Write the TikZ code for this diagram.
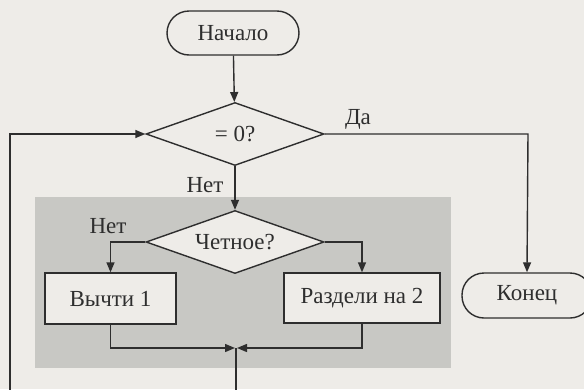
\documentclass[tikz,border=0pt]{standalone}
\usepackage{fontspec}
\setmainfont{Liberation Serif}
\usetikzlibrary{arrows.meta,shapes.geometric}
\definecolor{paper}{HTML}{EEECE8}
\definecolor{panel}{HTML}{C8C8C4}
\definecolor{ink}{HTML}{2E2E2E}
\tikzset{
  base/.style={draw=ink, line width=1.4pt, fill=paper, text=ink, inner sep=0pt,
    font=\fontsize{23}{27}\selectfont},
  terminal/.style={base, rectangle, rounded corners=22pt},
  decision/.style={base, diamond, aspect=2.83, minimum width=178pt, minimum height=63pt},
  process/.style={base, rectangle},
  flow/.style={draw=ink, line width=1.4pt, -{Triangle[length=10pt,width=8pt]}},
  line/.style={draw=ink, line width=1.4pt},
  lbl/.style={text=ink, inner sep=0pt, font=\fontsize{23}{27}\selectfont}
}
\begin{document}
\begin{tikzpicture}[x=1pt,y=-1pt]
  \useasboundingbox (0,0) rectangle (584,389);
  \clip (0,0) rectangle (584,389);
  \fill[paper] (0,0) rectangle (584,389);
  % shaded loop body
  \fill[panel] (35,197) rectangle (451,368);

  \node[terminal, minimum width=132pt, minimum height=44pt] (start) at (233,33) {Начало};
  \node[decision] (zero) at (235,134) {= 0?};
  \node[decision] (even) at (235,242) {Четное?};
  \node[process, minimum width=131pt, minimum height=51pt] (sub) at (110.5,298.5) {Вычти 1};
  \node[process, minimum width=156pt, minimum height=50pt] (div) at (362,298) {Раздели на 2};
  \node[terminal, minimum width=130pt, minimum height=45pt] (stop) at (527,295.5) {Конец};

  \coordinate (merge) at (236,348);
  \coordinate (loopR) at (236,410);
  \coordinate (loopL) at (10,410);
  \coordinate (yesC) at (528,134);

  \draw[flow] (start) -- (zero);
  \draw[flow] (zero) -- (even);
  \draw[flow] (zero.east) -- (yesC) -- (stop.north);
  \draw[flow] (even.west) -| (sub.north);
  \draw[flow] (even.east) -| (div.north);
  \draw[flow, shorten >=1pt] (sub.south) |- (merge);
  \draw[flow, shorten >=1pt] (div.south) |- (merge);
  \draw[flow] (merge) -- (loopR) -- (loopL) |- (zero.west);

  \node[lbl] (yes) at (358,119) {Да};
  \node[lbl] (no1) at (205,185) {Нет};
  \node[lbl] (no2) at (108,226) {Нет};
\end{tikzpicture}
\end{document}
